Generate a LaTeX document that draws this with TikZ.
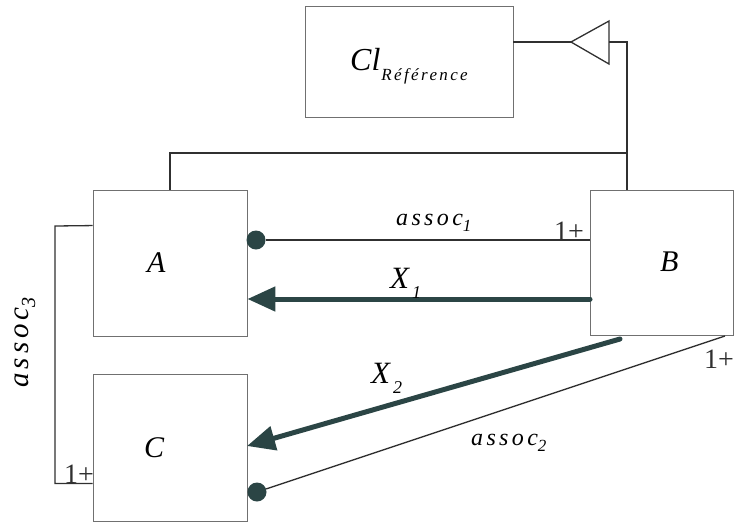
\documentclass[tikz,border=0pt]{standalone}
\usepackage{fontspec}
\setmainfont{Liberation Serif}
\newfontfamily\spaced[LetterSpace=14]{Liberation Serif}
\usetikzlibrary{arrows.meta,calc}
\definecolor{thickc}{HTML}{2B4545}
\definecolor{thinc}{HTML}{303030}
\definecolor{boxc}{HTML}{707070}
\tikzset{
  box/.style={draw=boxc,line width=0.9pt,fill=white,inner sep=0pt},
  thinline/.style={draw=thinc,line width=1.3pt},
  thickarrow/.style={draw=thickc,line width=5pt,line cap=round,-{Triangle[length=28pt,width=24pt]}},
  dot/.style={circle,fill=thickc,minimum size=19pt,inner sep=0pt},
  lbl/.style={font=\fontsize{30}{30}\selectfont\itshape,inner sep=0pt},
  xlbl/.style={font=\fontsize{31}{31}\selectfont\itshape,inner sep=0pt},
  alab/.style={font=\fontsize{24}{24}\selectfont\spaced\itshape,inner sep=0pt},
  alabbig/.style={font=\fontsize{29}{29}\selectfont\spaced\itshape,inner sep=0pt},
  mult/.style={font=\fontsize{28}{28}\selectfont,inner sep=0pt,text=thinc},
}
\newcommand{\mysub}[1]{\raisebox{-6pt}{\fontsize{17}{17}\selectfont #1}}
\newcommand{\bigsub}[1]{\raisebox{-7pt}{\fontsize{20}{20}\selectfont #1}}
\newcommand{\xsub}[1]{\kern3pt\raisebox{-10pt}{\fontsize{18}{18}\selectfont #1}}
\begin{document}
\begin{tikzpicture}[x=1pt,y=-1pt]
\useasboundingbox (0,0) rectangle (734,523);
% boxes
\node[box,minimum width=208pt,minimum height=111pt] (Cl) at (409,61.5) {};
\node[box,minimum width=154pt,minimum height=146pt] (A) at (170,263) {};
\node[box,minimum width=154pt,minimum height=147pt] (C) at (170,447.5) {};
\node[box,minimum width=143pt,minimum height=145pt] (B) at (661.5,262.5) {};
% labels in boxes
\node[inner sep=0pt,anchor=base west] (Cllab) at (350,70) {{\fontsize{32}{32}\selectfont\itshape Cl}\kern1pt\raisebox{-10pt}{\fontsize{17}{17}\selectfont\spaced\itshape Référence}};
\node[lbl,anchor=base west] (Alab) at (147,272) {A};
\node[lbl,anchor=base west] (Blab) at (660,271) {B};
\node[lbl,anchor=base west] (Clab) at (144,457) {C};
% inheritance triangle
\coordinate (tip) at (571,42);
\coordinate (tbase) at (609,42);
\coordinate (j) at (627,153);
\draw[thinline,fill=white] (tip) -- (609,21) -- (609,64) -- cycle;
\draw[thinline] (Cl.east |- tip) -- (tip);
\draw[thinline] (tbase) -| (j) -- (j |- B.north);
\draw[thinline] (A.north) |- (j);
% assoc1
\node[dot] (d1) at (256,240) {};
\draw[thinline] (B.west |- d1) -- (d1);
\node[mult,anchor=base] (m1) at (569,240) {1+};
\node[alab,anchor=base west] (a1) at (396,225) {assoc\mysub{\itshape 1}};
% X1
\coordinate (x1s) at (590,299);
\draw[thickarrow] (x1s) -- (A.east |- x1s);
\node[xlbl,anchor=base west] (x1) at (390,288) {X\xsub{1}};
% X2
\coordinate (x2s) at (620,339);
\coordinate (x2e) at (247,446);
\draw[thickarrow] (x2s) -- (x2e);
\node[xlbl,anchor=base west] (x2) at (371,383) {X\xsub{2}};
% assoc2
\node[dot] (d2) at (257,492) {};
\coordinate (a2s) at (725,336);
\draw[thinline] (a2s) -- (d2);
\node[mult,anchor=base east] (m2) at (734,368) {1+};
\node[alab,anchor=base west] (a2) at (471,445) {assoc\mysub{2}};
% assoc3
\coordinate (a3a) at ([yshift=-36pt]A.north west);
\coordinate (a3b) at ([yshift=38pt]C.south west);
\draw[thinline] (a3a) -- (55,226) |- (a3b);
\node[mult,anchor=base] (m3) at (79,483) {1+};
\node[alabbig,rotate=90,anchor=base west] (a3) at (28,388) {assoc\bigsub{3}};
\end{tikzpicture}
\end{document}
